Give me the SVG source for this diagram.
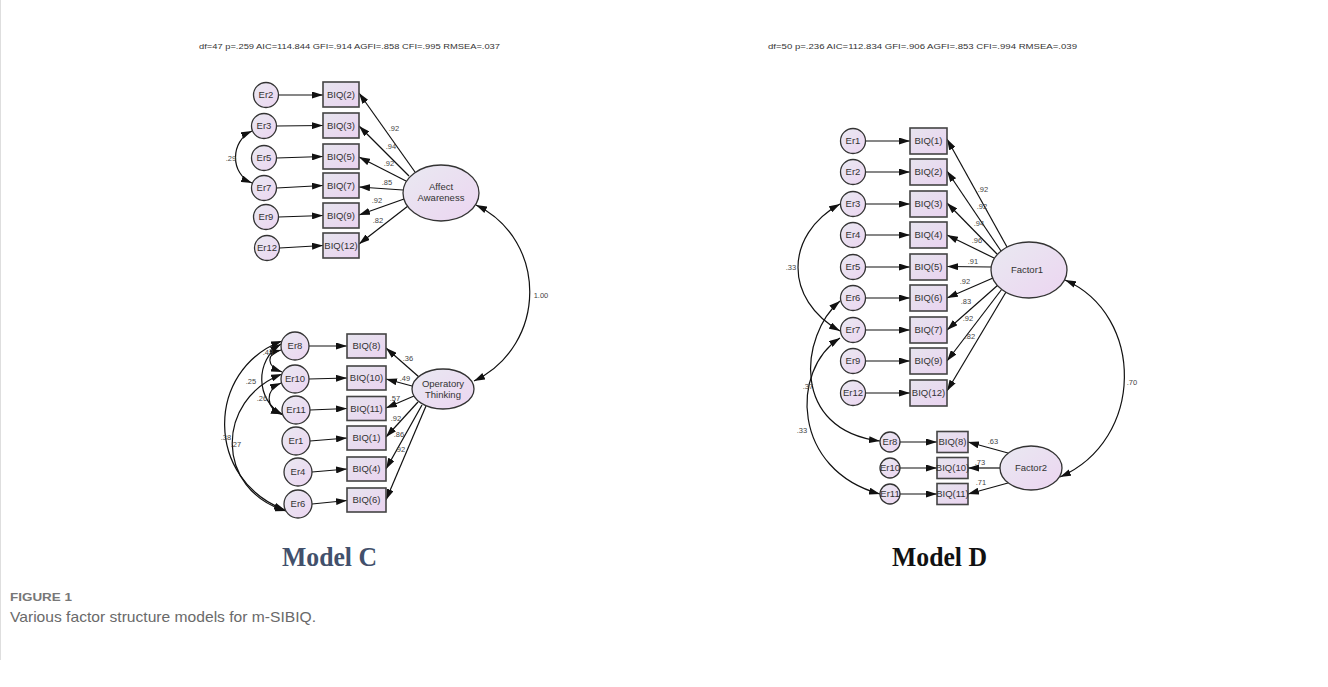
<svg xmlns="http://www.w3.org/2000/svg" width="1328" height="687" viewBox="0 0 1328 687">
<defs>
<linearGradient id="g" x1="0" y1="0" x2="1" y2="1"><stop offset="0" stop-color="#e9e9f1"/><stop offset="1" stop-color="#ecd5f1"/></linearGradient>
<linearGradient id="g2" x1="0" y1="0" x2="1" y2="1"><stop offset="0" stop-color="#e6e4ee"/><stop offset="1" stop-color="#ead3f0"/></linearGradient>
<marker id="ah" markerWidth="11" markerHeight="7" refX="11" refY="3.5" orient="auto-start-reverse" markerUnits="userSpaceOnUse"><path d="M0,0 L11,3.5 L0,7 z" fill="#111"/></marker>
</defs>
<style>
.n{fill:url(#g);stroke:#333;stroke-width:1.3}
.b{fill:url(#g2);stroke:#444;stroke-width:1.6}
.t{font-family:"Liberation Sans",Arial,sans-serif;font-size:9.5px;fill:#333;text-anchor:middle}
.c{fill:none;stroke:#111;stroke-width:1.2;marker-end:url(#ah)}
.cv{fill:none;stroke:#111;stroke-width:1.2;marker-start:url(#ah);marker-end:url(#ah)}
.l{font-family:"Liberation Sans",Arial,sans-serif;font-size:7.5px;fill:#444;text-anchor:middle}
.h{font-family:"Liberation Sans",Arial,sans-serif;font-size:8px;fill:#333}
</style>
<rect width="1328" height="687" fill="#fff"/>
<line x1="0.5" y1="0" x2="0.5" y2="660" stroke="#dedede" stroke-width="1"/>
<text class="h" x="199" y="49" textLength="301" lengthAdjust="spacingAndGlyphs">df=47 p=.259 AIC=114.844 GFI=.914 AGFI=.858 CFI=.995 RMSEA=.037</text>
<text class="h" x="768" y="49" textLength="309" lengthAdjust="spacingAndGlyphs">df=50 p=.236 AIC=112.834 GFI=.906 AGFI=.853 CFI=.994 RMSEA=.039</text>

<g id="connectors">
<!-- Model C top -->
<line class="c" x1="278.5" y1="95" x2="323" y2="95"/>
<line class="c" x1="276.5" y1="126" x2="323" y2="125.5"/>
<line class="c" x1="276.5" y1="158" x2="323" y2="156.5"/>
<line class="c" x1="276.5" y1="188" x2="323" y2="185.5"/>
<line class="c" x1="278.5" y1="217" x2="323" y2="215.5"/>
<line class="c" x1="279.5" y1="248" x2="323" y2="245.5"/>
<line class="c" x1="415" y1="172" x2="359" y2="93"/>
<line class="c" x1="409" y1="176" x2="359" y2="126"/>
<line class="c" x1="406" y1="181" x2="359" y2="157"/>
<line class="c" x1="403" y1="190" x2="359" y2="187"/>
<line class="c" x1="404" y1="199" x2="359" y2="215"/>
<line class="c" x1="408" y1="206" x2="359" y2="244"/>
<path class="cv" d="M252,131 C230,141 230,174 252,183"/>
<path class="cv" d="M476,205 C548,240 548,345 474,381"/>
<text class="l" x="394" y="131">.92</text>
<text class="l" x="391" y="149">.94</text>
<text class="l" x="389" y="166">.92</text>
<text class="l" x="387" y="185">.85</text>
<text class="l" x="377" y="203">.92</text>
<text class="l" x="378" y="223">.82</text>
<text class="l" x="231" y="161">.29</text>
<text class="l" x="541" y="298">1.00</text>
<!-- Model C bottom -->
<line class="c" x1="309" y1="346" x2="347" y2="346"/>
<line class="c" x1="309" y1="379" x2="347" y2="378"/>
<line class="c" x1="310" y1="410" x2="347" y2="408.5"/>
<line class="c" x1="310" y1="441" x2="347" y2="438"/>
<line class="c" x1="312" y1="472" x2="347" y2="469"/>
<line class="c" x1="312" y1="504" x2="347" y2="500.5"/>
<line class="c" x1="419" y1="377" x2="386" y2="348"/>
<line class="c" x1="412" y1="386" x2="386" y2="379"/>
<line class="c" x1="414" y1="396" x2="386" y2="408"/>
<line class="c" x1="418" y1="402" x2="386" y2="437"/>
<line class="c" x1="422" y1="405" x2="386" y2="469"/>
<line class="c" x1="426" y1="406" x2="386" y2="500"/>
<path class="cv" d="M281,350 C266,354 266,366 282,372"/>
<path class="cv" d="M281,344 C255,360 255,400 283,415"/>
<path class="cv" d="M281,383 C265,390 265,408 282,414"/>
<path class="cv" d="M282,341 C205,370 205,480 285,510"/>
<path class="cv" d="M282,374 C215,400 215,490 286,511"/>
<text class="l" x="408" y="361">.36</text>
<text class="l" x="405" y="381">.49</text>
<text class="l" x="395" y="401">.57</text>
<text class="l" x="396" y="421">.92</text>
<text class="l" x="399" y="437">.86</text>
<text class="l" x="400" y="452">.92</text>
<text class="l" x="268" y="355">.48</text>
<text class="l" x="251" y="384">.25</text>
<text class="l" x="262" y="401">.26</text>
<text class="l" x="226" y="440">.38</text>
<text class="l" x="236" y="447">.27</text>
<!-- Model D -->
<line class="c" x1="865.5" y1="141" x2="910" y2="141"/>
<line class="c" x1="865.5" y1="172" x2="910" y2="172"/>
<line class="c" x1="865.5" y1="204" x2="910" y2="204"/>
<line class="c" x1="865.5" y1="235" x2="910" y2="235"/>
<line class="c" x1="865.5" y1="267" x2="910" y2="267"/>
<line class="c" x1="865.5" y1="298" x2="910" y2="298"/>
<line class="c" x1="865.5" y1="330" x2="910" y2="330"/>
<line class="c" x1="865.5" y1="361" x2="910" y2="361"/>
<line class="c" x1="865.5" y1="393" x2="910" y2="393"/>
<line class="c" x1="1007" y1="247" x2="947" y2="139"/>
<line class="c" x1="1001" y1="251" x2="947" y2="171"/>
<line class="c" x1="997" y1="254" x2="947" y2="203"/>
<line class="c" x1="994" y1="258" x2="947" y2="235"/>
<line class="c" x1="991" y1="267" x2="947" y2="266.5"/>
<line class="c" x1="993" y1="278" x2="947" y2="298"/>
<line class="c" x1="998" y1="285" x2="947" y2="330"/>
<line class="c" x1="1002" y1="289" x2="947" y2="361"/>
<line class="c" x1="1006" y1="292" x2="947" y2="391"/>
<line class="c" x1="900" y1="442" x2="937" y2="442"/>
<line class="c" x1="900" y1="468" x2="937" y2="468"/>
<line class="c" x1="900" y1="494" x2="937" y2="494"/>
<line class="c" x1="1008" y1="453" x2="968" y2="442"/>
<line class="c" x1="1000" y1="468" x2="968" y2="468"/>
<line class="c" x1="1008" y1="483" x2="968" y2="494"/>
<path class="cv" d="M840,204 C784,235 784,300 840,331"/>
<path class="cv" d="M840,301 C800,335 790,430 880,441"/>
<path class="cv" d="M840,338 C790,370 792,470 880,494"/>
<path class="cv" d="M1065,280 C1145,315 1145,440 1060,477"/>
<text class="l" x="983" y="192">.92</text>
<text class="l" x="982" y="209">.92</text>
<text class="l" x="979" y="226">.94</text>
<text class="l" x="977" y="243">.96</text>
<text class="l" x="973" y="264">.91</text>
<text class="l" x="965" y="284">.92</text>
<text class="l" x="966" y="304">.83</text>
<text class="l" x="968" y="321">.92</text>
<text class="l" x="970" y="339">.82</text>
<text class="l" x="993" y="444">.63</text>
<text class="l" x="980" y="465">.73</text>
<text class="l" x="981" y="485">.71</text>
<text class="l" x="791" y="270">.33</text>
<text class="l" x="808" y="389">.37</text>
<text class="l" x="802" y="433">.33</text>
<text class="l" x="1132" y="385">.70</text>
</g>

<!-- Model C nodes -->
<g id="c-er2"><circle class="n" cx="266" cy="95" r="12.5"/><text class="t" x="266" y="98.4">Er2</text></g>
<g id="c-er3"><circle class="n" cx="264" cy="126" r="12.5"/><text class="t" x="264" y="129.4">Er3</text></g>
<g id="c-er5"><circle class="n" cx="264" cy="158" r="12.5"/><text class="t" x="264" y="161.4">Er5</text></g>
<g id="c-er7"><circle class="n" cx="264" cy="188" r="12.5"/><text class="t" x="264" y="191.4">Er7</text></g>
<g id="c-er9"><circle class="n" cx="266" cy="217" r="12.5"/><text class="t" x="266" y="220.4">Er9</text></g>
<g id="c-er12"><circle class="n" cx="267" cy="248" r="12.5"/><text class="t" x="267" y="251.4">Er12</text></g>
<g id="c-biq2"><rect class="b" x="323" y="82" width="36" height="25"/><text class="t" x="341" y="97.9">BIQ(2)</text></g>
<g id="c-biq3"><rect class="b" x="323" y="113" width="36" height="25"/><text class="t" x="341" y="128.9">BIQ(3)</text></g>
<g id="c-biq5"><rect class="b" x="323" y="144" width="36" height="25"/><text class="t" x="341" y="159.9">BIQ(5)</text></g>
<g id="c-biq7"><rect class="b" x="323" y="173" width="36" height="25"/><text class="t" x="341" y="188.9">BIQ(7)</text></g>
<g id="c-biq9"><rect class="b" x="323" y="203" width="36" height="25"/><text class="t" x="341" y="218.9">BIQ(9)</text></g>
<g id="c-biq12"><rect class="b" x="323" y="233" width="36" height="25"/><text class="t" x="341" y="248.9">BIQ(12)</text></g>
<g id="c-affect"><ellipse class="n" cx="441" cy="193" rx="38" ry="28"/><text class="t" x="441" y="190">Affect</text><text class="t" x="441" y="200.5">Awareness</text></g>

<g id="c-er8"><circle class="n" cx="295" cy="346" r="14"/><text class="t" x="295" y="349.4">Er8</text></g>
<g id="c-er10"><circle class="n" cx="295" cy="379" r="14"/><text class="t" x="295" y="382.4">Er10</text></g>
<g id="c-er11"><circle class="n" cx="296" cy="410" r="14"/><text class="t" x="296" y="413.4">Er11</text></g>
<g id="c-er1"><circle class="n" cx="296" cy="441" r="14"/><text class="t" x="296" y="444.4">Er1</text></g>
<g id="c-er4"><circle class="n" cx="298" cy="472" r="14"/><text class="t" x="298" y="475.4">Er4</text></g>
<g id="c-er6"><circle class="n" cx="298" cy="504" r="14"/><text class="t" x="298" y="507.4">Er6</text></g>
<g id="c-biq8"><rect class="b" x="347" y="334" width="39" height="24"/><text class="t" x="366.5" y="349.4">BIQ(8)</text></g>
<g id="c-biq10"><rect class="b" x="347" y="366" width="39" height="24"/><text class="t" x="366.5" y="381.4">BIQ(10)</text></g>
<g id="c-biq11"><rect class="b" x="347" y="396.5" width="39" height="24"/><text class="t" x="366.5" y="411.9">BIQ(11)</text></g>
<g id="c-biq1"><rect class="b" x="347" y="426" width="39" height="24"/><text class="t" x="366.5" y="441.4">BIQ(1)</text></g>
<g id="c-biq4"><rect class="b" x="347" y="457" width="39" height="24"/><text class="t" x="366.5" y="472.4">BIQ(4)</text></g>
<g id="c-biq6"><rect class="b" x="347" y="488" width="39" height="24"/><text class="t" x="366.5" y="503.4">BIQ(6)</text></g>
<g id="c-operatory"><ellipse class="n" cx="443" cy="389" rx="31" ry="20"/><text class="t" x="443" y="387">Operatory</text><text class="t" x="443" y="397.5">Thinking</text></g>

<!-- Model D nodes -->
<g id="d-er1"><circle class="n" cx="853" cy="141" r="12.5"/><text class="t" x="853" y="144.4">Er1</text></g>
<g id="d-er2"><circle class="n" cx="853" cy="172" r="12.5"/><text class="t" x="853" y="175.4">Er2</text></g>
<g id="d-er3"><circle class="n" cx="853" cy="204" r="12.5"/><text class="t" x="853" y="207.4">Er3</text></g>
<g id="d-er4"><circle class="n" cx="853" cy="235" r="12.5"/><text class="t" x="853" y="238.4">Er4</text></g>
<g id="d-er5"><circle class="n" cx="853" cy="267" r="12.5"/><text class="t" x="853" y="270.4">Er5</text></g>
<g id="d-er6"><circle class="n" cx="853" cy="298" r="12.5"/><text class="t" x="853" y="301.4">Er6</text></g>
<g id="d-er7"><circle class="n" cx="853" cy="330" r="12.5"/><text class="t" x="853" y="333.4">Er7</text></g>
<g id="d-er9"><circle class="n" cx="853" cy="361" r="12.5"/><text class="t" x="853" y="364.4">Er9</text></g>
<g id="d-er12"><circle class="n" cx="853" cy="393" r="12.5"/><text class="t" x="853" y="396.4">Er12</text></g>
<g id="d-biq1"><rect class="b" x="910" y="128" width="37" height="26"/><text class="t" x="928.5" y="144.4">BIQ(1)</text></g>
<g id="d-biq2"><rect class="b" x="910" y="159" width="37" height="26"/><text class="t" x="928.5" y="175.4">BIQ(2)</text></g>
<g id="d-biq3"><rect class="b" x="910" y="191" width="37" height="26"/><text class="t" x="928.5" y="207.4">BIQ(3)</text></g>
<g id="d-biq4"><rect class="b" x="910" y="222" width="37" height="26"/><text class="t" x="928.5" y="238.4">BIQ(4)</text></g>
<g id="d-biq5"><rect class="b" x="910" y="254" width="37" height="26"/><text class="t" x="928.5" y="270.4">BIQ(5)</text></g>
<g id="d-biq6"><rect class="b" x="910" y="285" width="37" height="26"/><text class="t" x="928.5" y="301.4">BIQ(6)</text></g>
<g id="d-biq7"><rect class="b" x="910" y="317" width="37" height="26"/><text class="t" x="928.5" y="333.4">BIQ(7)</text></g>
<g id="d-biq9"><rect class="b" x="910" y="348" width="37" height="26"/><text class="t" x="928.5" y="364.4">BIQ(9)</text></g>
<g id="d-biq12"><rect class="b" x="910" y="380" width="37" height="26"/><text class="t" x="928.5" y="396.4">BIQ(12)</text></g>
<g id="d-factor1"><ellipse class="n" cx="1029" cy="270" rx="38" ry="28"/><text class="t" x="1027" y="273.4">Factor1</text></g>
<g id="d-er8"><circle class="n" cx="890" cy="442" r="10"/><text class="t" x="890" y="445.4">Er8</text></g>
<g id="d-er10"><circle class="n" cx="890" cy="468" r="10"/><text class="t" x="890" y="471.4">Er10</text></g>
<g id="d-er11"><circle class="n" cx="890" cy="494" r="10"/><text class="t" x="890" y="497.4">Er11</text></g>
<g id="d-biq8"><rect class="b" x="937" y="431.5" width="31" height="21"/><text class="t" x="952.5" y="445.4">BIQ(8)</text></g>
<g id="d-biq10"><rect class="b" x="937" y="457.5" width="31" height="21"/><text class="t" x="952.5" y="471.4">BIQ(10)</text></g>
<g id="d-biq11"><rect class="b" x="937" y="483.5" width="31" height="21"/><text class="t" x="952.5" y="497.4">BIQ(11)</text></g>
<g id="d-factor2"><ellipse class="n" cx="1031" cy="468" rx="31" ry="22"/><text class="t" x="1031" y="471.4">Factor2</text></g>

<text x="282" y="566" font-family="'Liberation Serif','Times New Roman',serif" font-weight="bold" font-size="27" fill="#42506b" textLength="95" lengthAdjust="spacingAndGlyphs">Model C</text>
<text x="892" y="566" font-family="'Liberation Serif','Times New Roman',serif" font-weight="bold" font-size="27" fill="#111" textLength="95" lengthAdjust="spacingAndGlyphs">Model D</text>
<text x="10" y="601" font-family="'Liberation Sans',Arial,sans-serif" font-weight="bold" font-size="11" fill="#777" textLength="62" lengthAdjust="spacingAndGlyphs">FIGURE 1</text>
<text x="10" y="622" font-family="'Liberation Sans',Arial,sans-serif" font-size="14.5" fill="#6a6a6a" textLength="306" lengthAdjust="spacingAndGlyphs">Various factor structure models for m-SIBIQ.</text>
</svg>
